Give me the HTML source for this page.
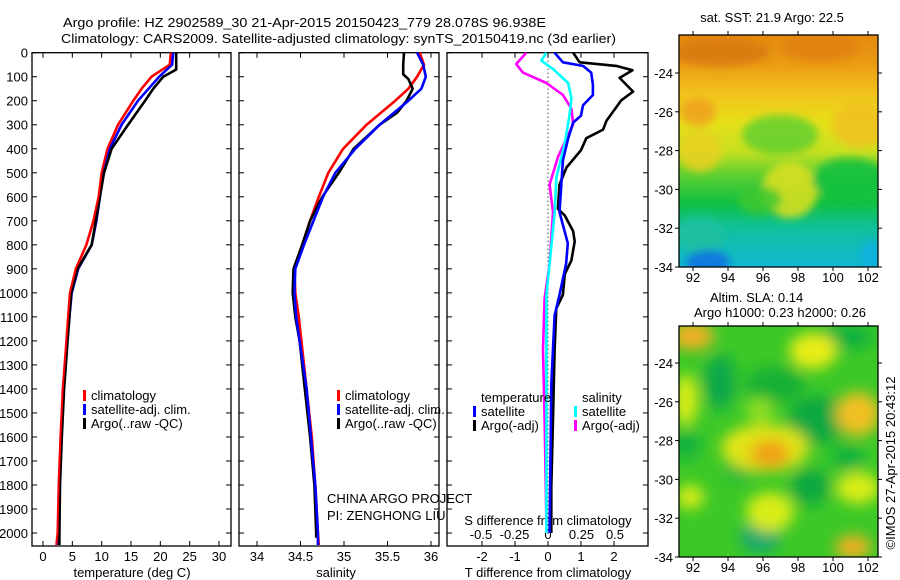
<!DOCTYPE html>
<html><head><meta charset="utf-8">
<style>
html,body{margin:0;padding:0;background:#fff;}
svg{display:block;font-family:"Liberation Sans",sans-serif;}
text{font-size:13px;fill:#000;}
</style></head>
<body>
<svg id="chart" width="900" height="580" viewBox="0 0 900 580" xmlns="http://www.w3.org/2000/svg">
<defs>
<filter id="blur6" x="-50%" y="-50%" width="200%" height="200%"><feGaussianBlur stdDeviation="7"/></filter>
<filter id="blur4" x="-50%" y="-50%" width="200%" height="200%"><feGaussianBlur stdDeviation="4"/></filter>
<linearGradient id="sstGrad" x1="0" y1="0" x2="0" y2="1">
<stop offset="0" stop-color="#e48a10"/><stop offset="0.12" stop-color="#ea9a14"/>
<stop offset="0.25" stop-color="#f2c21c"/><stop offset="0.38" stop-color="#e6e018"/>
<stop offset="0.50" stop-color="#c8e020"/><stop offset="0.60" stop-color="#60d030"/>
<stop offset="0.72" stop-color="#10c040"/><stop offset="0.84" stop-color="#10c0a0"/>
<stop offset="1" stop-color="#10b8d0"/></linearGradient>
<clipPath id="clipSST"><rect x="679" y="35" width="199" height="232"/></clipPath>
<clipPath id="clipSLA"><rect x="679" y="326" width="199" height="231"/></clipPath>
</defs>
<text x="63" y="27" textLength="483" lengthAdjust="spacingAndGlyphs">Argo profile: HZ 2902589_30 21-Apr-2015 20150423_779 28.078S 96.938E</text>
<text x="61" y="43" textLength="555" lengthAdjust="spacingAndGlyphs">Climatology: CARS2009. Satellite-adjusted climatology: synTS_20150419.nc (3d earlier)</text>
<g id="panels"></g>
</svg>
<script>
// depth grid (m)
const depthsT = [0,50,100,150,200,300,400,500,600,700,800,900,1000,1100,1200,1400,1600,1800,2000,2050];
const tempClim = [21.8,21.6,18.5,16.8,15.4,12.8,11.0,10.0,9.5,8.6,7.4,5.6,4.6,4.3,4.0,3.4,3.0,2.7,2.5,2.3];
const tempSat  = [22.2,22.0,19.8,18.0,16.2,13.4,11.4,10.3,9.7,9.1,8.3,6.0,4.9,4.5,4.1,3.5,3.1,2.8,2.6,2.6];
const depthsTA = [0,70,100,150,200,300,400,500,600,700,800,900,1000,1100,1200,1400,1600,1800,2000,2050];
const tempArgo = [22.7,22.7,20.5,18.8,17.4,14.5,11.7,10.4,9.7,9.0,8.3,5.9,4.8,4.5,4.2,3.6,3.2,2.9,2.8,2.8];
const depthsS = [0,50,100,150,200,300,400,500,600,700,800,900,1000,1100,1200,1400,1600,1800,2000,2050];
const salClim = [35.87,35.92,35.84,35.74,35.59,35.26,34.99,34.82,34.71,34.61,34.52,34.43,34.44,34.48,34.51,34.57,34.63,34.67,34.70,34.71];
const salSat  = [35.84,35.91,35.94,35.89,35.74,35.41,35.13,34.90,34.76,34.65,34.54,34.44,34.43,34.45,34.49,34.57,34.62,34.67,34.70,34.70];
const depthsSA = [0,50,90,110,150,200,250,300,400,500,600,700,800,900,1000,1100,1200,1400,1600,1800,2000,2020];
const salArgo = [35.69,35.68,35.68,35.74,35.79,35.72,35.61,35.41,35.11,34.94,34.75,34.61,34.52,34.42,34.41,34.44,34.49,34.55,34.61,34.66,34.68,34.68];
// difference profiles
const dTArgoDepth = [0,40,55,73,105,162,198,284,320,356,406,478,549,650,678,743,786,865,922,1008,1065,1237,1524,1811,2000];
const dTArgo = [0.76,0.96,2.07,2.56,2.17,2.58,2.22,1.77,1.67,1.16,1.0,0.56,0.35,0.30,0.51,0.76,0.81,0.71,0.51,0.45,0.25,0.2,0.15,0.1,0.1];
const dTSatDepth = [0,40,55,83,133,176,219,262,291,363,449,664,793,879,1008,1094,1380,2000];
const dTSat = [0.2,0.45,1.06,1.31,1.36,1.36,1.06,1.0,0.76,0.6,0.45,0.35,0.6,0.55,0.35,0.2,0.1,0.05];
const dSSatDepth = [0,33,69,126,191,262,377,521,664,879,1008,1400,2000];
const dSSat = [-0.012,-0.05,0.04,0.15,0.175,0.16,0.125,0.062,0.05,0.012,-0.012,-0.012,-0.012];
const dSArgoDepth = [0,47,83,126,176,234,298,434,549,664,879,1022,1237,1524,1957];
const dSArgo = [-0.162,-0.237,-0.187,-0.012,0.112,0.175,0.187,0.075,0.012,0.037,0.012,-0.025,-0.037,-0.025,-0.012];
// tick labels
const depthTicks = [0,100,200,300,400,500,600,700,800,900,1000,1100,1200,1300,1400,1500,1600,1700,1800,1900,2000];
const tempTicks = [0,5,10,15,20,25,30];
const salTicks = [34,34.5,35,35.5,36];
const tdTicks = [-2,-1,0,1,2];
const sdTicks = [-0.5,-0.25,0,0.25,0.5];
const sdTickLabels = ["-0.5","-0.25","0","0.25","0.5"];
const lonTicks = [92,94,96,98,100,102];
const latTicks = [-24,-26,-28,-30,-32,-34];

const NS="http://www.w3.org/2000/svg";
const root=document.getElementById('panels');
function el(tag,attrs,parent){const e=document.createElementNS(NS,tag);for(const k in attrs)e.setAttribute(k,attrs[k]);(parent||root).appendChild(e);return e;}
function txt(x,y,s,anchor,parent){const t=el('text',{x:x,y:y,'text-anchor':anchor||'start'},parent);t.textContent=s;return t;}

const TOP=52.7, BOT=546;
const yD = d => TOP + d*(BOT-TOP)/2054;
const xT = v => 43 + v*(219-43)/30;
const xS = v => 257 + (v-34)*(431-257)/2;
const xTD = v => 548 + v*33;
const xSD = v => 548 + v*134;

function panel(name,x0,x1){
  const g=el('g',{});
  
  
  el('rect',{x:x0,y:TOP,width:x1-x0,height:BOT-TOP,fill:'none',stroke:'#000','stroke-width':1.3},g);
  depthTicks.forEach(d=>{const y=yD(d);
    el('line',{x1:x0,x2:x0+5,y1:y,y2:y,stroke:'#000'},g);
    el('line',{x1:x1-5,x2:x1,y1:y,y2:y,stroke:'#000'},g);});
  return g;
}
function xticks(g,ticks,fx,labels,ly){
  ticks.forEach((v,i)=>{const x=fx(v);
    el('line',{x1:x,x2:x,y1:TOP,y2:TOP+5,stroke:'#000'},g);
    el('line',{x1:x,x2:x,y1:BOT-5,y2:BOT,stroke:'#000'},g);
    const t=txt(x,ly,labels?labels[i]:String(v),'middle',g);
    
    });
}
function line(g,xs,ds,fx,color,name,w){
  const pts=xs.map((v,i)=>fx(v).toFixed(1)+','+yD(ds[i]).toFixed(1)).join(' ');
  const p=el('polyline',{points:pts,fill:'none',stroke:color,'stroke-width':w||2.6,'stroke-linejoin':'round'},g);
  
  
}
function legend(g,x,y,color,label,name){
  el('rect',{x:x,y:y-8,width:3,height:11,fill:color},g);
  const t=txt(x+8,y+2,label,'start',g);
  
  
}

// Panel 1
const g1=panel('temperature-panel',32,231);
depthTicks.forEach(d=>{const t=txt(28,yD(d)+5,String(d),'end',g1);
  
  });
xticks(g1,tempTicks,xT,null,561);
const xt1=txt(132,577,'temperature (deg C)','middle',g1);


line(g1,tempClim,depthsT,xT,'#f00','temp-climatology-line');
line(g1,tempSat,depthsT,xT,'#00f','temp-satellite-line');
line(g1,tempArgo,depthsTA,xT,'#000','temp-argo-line');
line(g1,tempClim,depthsT,xT,'#f00','temp-climatology-line-top',1.6);
legend(g1,83,398,'#f00','climatology','legend-climatology');
legend(g1,83,412,'#00f','satellite-adj. clim.','legend-satellite');
legend(g1,83,426,'#000','Argo(..raw -QC)','legend-argo');

// Panel 2
const g2=panel('salinity-panel',239,439);
xticks(g2,salTicks,xS,null,561);
const xt2=txt(336,577,'salinity','middle',g2);


line(g2,salClim,depthsS,xS,'#f00','sal-climatology-line');
line(g2,salArgo,depthsSA,xS,'#000','sal-argo-line');
line(g2,salSat,depthsS,xS,'#00f','sal-satellite-line');
legend(g2,337,398,'#f00','climatology','legend-climatology-s');
legend(g2,337,412,'#00f','satellite-adj. clim.','legend-satellite-s');
legend(g2,337,426,'#000','Argo(..raw -QC)','legend-argo-s');
const c1=txt(327,503,'CHINA ARGO PROJECT','start',g2);


const c2=txt(327,520,'PI: ZENGHONG LIU','start',g2);



// Panel 3
const g3=panel('difference-panel',447,648);
el('line',{x1:548,x2:548,y1:TOP,y2:BOT-10,stroke:'#000','stroke-dasharray':'1,3'},g3);
tdTicks.forEach(v=>{const x=xTD(v);
  el('line',{x1:x,x2:x,y1:TOP,y2:TOP+5,stroke:'#000'},g3);
  el('line',{x1:x,x2:x,y1:BOT-5,y2:BOT,stroke:'#000'},g3);
  const t=txt(x,561,String(v),'middle',g3);
  
  });
sdTicks.forEach((v,i)=>{const t=txt(xSD(v),539,sdTickLabels[i],'middle',g3);
  
  });
const t3a=txt(548,525,'S difference from climatology','middle',g3);


const t3b=txt(548,577,'T difference from climatology','middle',g3);


line(g3,dSArgo,dSArgoDepth,xSD,'#f0f','s-diff-argo-line');
line(g3,dSSat,dSSatDepth,xSD,'#0ff','s-diff-satellite-line');
line(g3,dTArgo,dTArgoDepth,xTD,'#000','t-diff-argo-line');
line(g3,dTSat,dTSatDepth,xTD,'#00f','t-diff-satellite-line');
const lt=txt(481,402,'temperature','start',g3);


const ls=txt(582,402,'salinity','start',g3);


legend(g3,473,414,'#00f','satellite','legend-t-satellite');
legend(g3,473,428,'#000','Argo(-adj)','legend-t-argo');
legend(g3,574,414,'#0ff','satellite','legend-s-satellite');
legend(g3,574,428,'#f0f','Argo(-adj)','legend-s-argo');

// Maps
const xL = v => 679 + (v-91.2)*17.5;
function mapAxes(g,top,bot){
  const py=19.4;
  const yL = v => bot - (v+34)*py;
  el('rect',{x:679,y:top,width:199,height:bot-top,fill:'none',stroke:'#000','stroke-width':1.3},g);
  lonTicks.forEach(v=>{const x=xL(v);
    el('line',{x1:x,x2:x,y1:top-4,y2:top,stroke:'#000'},g);
    el('line',{x1:x,x2:x,y1:bot,y2:bot+4,stroke:'#000'},g);
    const t=txt(x,bot+15,String(v),'middle',g);
    
    });
  latTicks.forEach(v=>{const y=yL(v);
    el('line',{x1:675,x2:679,y1:y,y2:y,stroke:'#000'},g);
    el('line',{x1:878,x2:882,y1:y,y2:y,stroke:'#000'},g);
    const t=txt(673,y+5,String(v),'end',g);
    
    });
}
// SST map
const gm1=el('g',{});


const f1=el('g',{'clip-path':'url(#clipSST)'},gm1);
el('rect',{x:679,y:35,width:199,height:232,fill:'url(#sstGrad)'},f1);
const bl1=el('g',{filter:'url(#blur4)'},f1);
[[780,135,38,20,'#60d030'],[700,150,22,22,'#e8d020'],[790,190,28,28,'#e0e020'],[860,125,28,22,'#f0c020'],
 [850,180,38,22,'#10c040'],[700,235,25,18,'#20c0a0'],[708,262,22,12,'#1070e0'],[872,255,12,15,'#10b0e0'],
 [720,52,50,14,'#d87810'],[820,48,40,13,'#e08010'],[698,112,18,14,'#f0a020'],[760,200,22,14,'#40c830']].forEach(b=>{
  el('ellipse',{cx:b[0],cy:b[1],rx:b[2],ry:b[3],fill:b[4],opacity:0.85},bl1);});
mapAxes(gm1,35,267);
const mt1=txt(772,22,'sat. SST: 21.9 Argo: 22.5','middle',gm1);



// SLA map
const gm2=el('g',{});


const f2=el('g',{'clip-path':'url(#clipSLA)'},gm2);
el('rect',{x:679,y:326,width:199,height:231,fill:'#3cc828'},f2);
const bl2=el('g',{filter:'url(#blur6)'},f2);
[[720,382,16,28,'#10a848'],[818,420,30,24,'#10a840'],[810,487,20,18,'#10a840'],[760,537,20,16,'#18a870'],
 [686,445,14,14,'#10b040'],[845,337,28,12,'#10b040'],[848,458,16,12,'#10b040'],[775,385,30,18,'#18b035'],
 [740,470,14,10,'#10b040'],
 [692,336,22,14,'#f0b020'],[813,351,24,18,'#e8ec18'],[686,400,12,26,'#d8ec18'],[765,448,44,24,'#e0e418'],
 [858,414,22,22,'#f0c020'],[770,454,20,14,'#f0a018'],[858,488,22,16,'#d8ec18'],[770,512,24,20,'#d8ec18'],
 [853,547,18,12,'#f0b020'],[690,497,14,12,'#d8ec18'],[760,410,14,12,'#90e020']].forEach(b=>{
  el('ellipse',{cx:b[0],cy:b[1],rx:b[2],ry:b[3],fill:b[4]},bl2);});
mapAxes(gm2,326,557);
const mt2=txt(710,302,'Altim. SLA: 0.14','start',gm2);


const mt3=txt(694,317,'Argo h1000: 0.23 h2000: 0.26','start',gm2);



const cp=txt(0,0,'©IMOS 27-Apr-2015 20:43:12','middle');
cp.setAttribute('transform','translate(895,463) rotate(-90)');


</script>
</body></html>
